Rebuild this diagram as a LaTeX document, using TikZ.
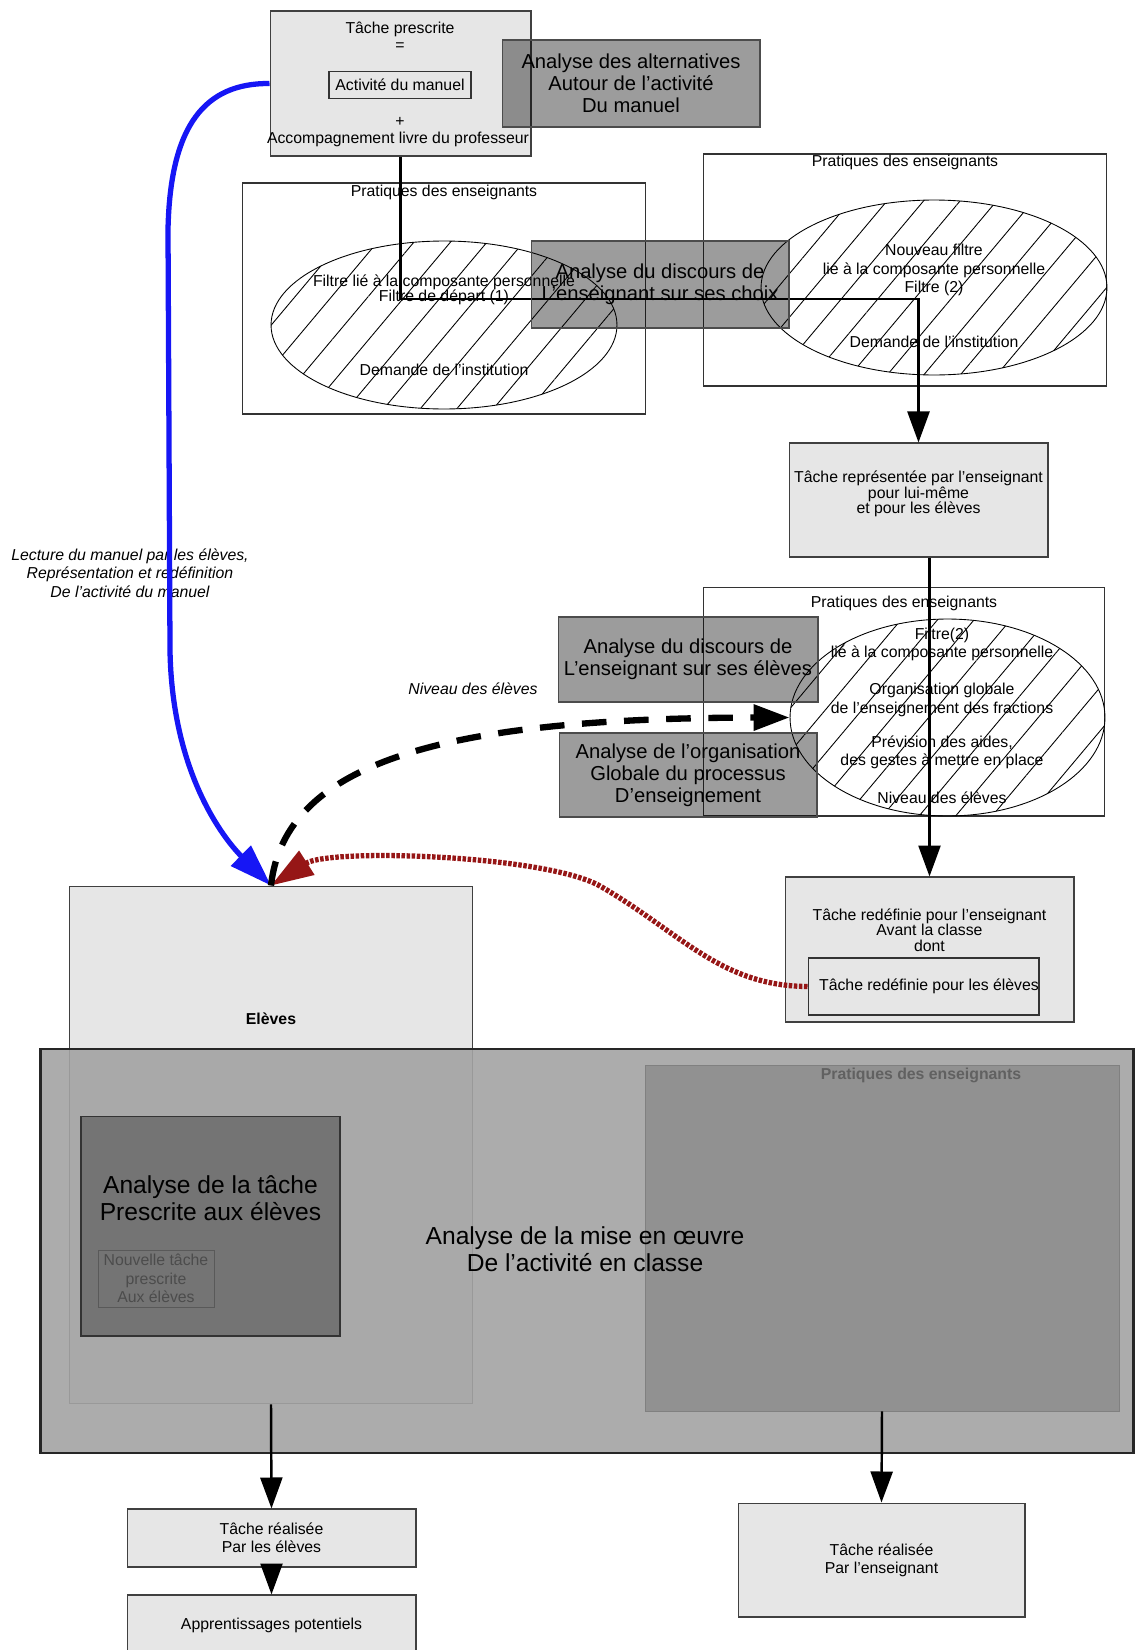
\documentclass[tikz,border=0pt]{standalone}
\usepackage{fontspec}
\setmainfont{Liberation Sans}
\usetikzlibrary{arrows.meta,shapes.geometric,patterns.meta}

\definecolor{boxgray}{RGB}{230,230,230}
\definecolor{bigfill}{RGB}{163,163,163}
\definecolor{darkfill}{RGB}{116,116,116}
\definecolor{pratfill}{RGB}{145,145,145}
\definecolor{arcred}{RGB}{150,22,22}
\definecolor{arcblue}{RGB}{22,22,245}

\tikzset{
    small/.style={font=\fontsize{9}{10.4}\selectfont, align=center, inner sep=0pt},
    tight/.style={font=\fontsize{9}{8.8}\selectfont, align=center, inner sep=0pt},
    smallbold/.style={small, font=\fontsize{9}{10.4}\selectfont\bfseries},
    note/.style={small, font=\fontsize{9}{10.4}\selectfont\itshape},
    large/.style={font=\fontsize{11.5}{12.6}\selectfont, align=center},
    huge/.style={font=\fontsize{14}{15.5}\selectfont, align=center},
    box/.style={draw=black!75, line width=0.6pt, fill=boxgray, inner sep=0pt},
    framebox/.style={draw=black!80, line width=0.6pt, inner sep=0pt},
    analyse/.style={draw=black!70, line width=0.6pt, fill=black, fill opacity=0.39, text opacity=1, large},
    filtre/.style={ellipse, draw, line width=0.5pt, inner sep=0pt, pattern={Lines[angle=50,distance=0.56cm,line width=0.5pt]}},
    conn/.style={line width=1.4pt, -{Triangle[length=0.62cm,width=0.44cm]}},
    bluearc/.style={line width=3pt, arcblue, -{Triangle[length=0.85cm,width=0.55cm]}},
    redarc/.style={line width=3pt, arcred, dash pattern=on 2pt off 0.9pt, -{Triangle[length=0.85cm,width=0.55cm]}},
    blackarc/.style={line width=3.6pt, dash pattern=on 14pt off 10pt, -{Triangle[length=0.72cm,width=0.5cm]}},
}

\begin{document}
\begin{tikzpicture}[x=0.02cm, y=-0.02cm]
    \useasboundingbox (0,0) rectangle (1137,1650);

    \node[box, minimum width=5.22cm, minimum height=2.9cm] (prescrite) at (400.5,83.5) {};
    \node[small] at (400,29) {Tâche prescrite};
    \node[small] at (400,47) {=};
    \node[framebox, small, minimum width=2.84cm, minimum height=0.54cm] (manuel) at (400,85) {Activité du manuel};
    \node[small] at (400,122) {+};
    \node[small] at (398,139) {Accompagnement livre du professeur};

    \node[framebox, minimum width=8.08cm, minimum height=4.62cm] (prat1) at (444,298.5) {};
    \node[small] at (444,192) {Pratiques des enseignants};
    \node[filtre, minimum width=6.92cm, minimum height=3.36cm] (filtre1) at (444,325) {};
    \node[small] at (444,282) {Filtre lié à la composante personnelle};
    \node[small] at (444,297) {Filtre de départ (1)};
    \node[small] at (444,370) {Demande de l'institution};

    \node[framebox, minimum width=8.08cm, minimum height=4.64cm] (prat2) at (905,270) {};
    \node[small] at (905,162) {Pratiques des enseignants};
    \node[filtre, minimum width=6.92cm, minimum height=3.5cm] (filtre2) at (934,287.5) {};
    \node[small] at (934,270) {Nouveau filtre\\lié à la composante personnelle\\Filtre (2)};
    \node[small] at (934,342) {Demande de l'institution};

    \node[box, minimum width=5.18cm, minimum height=2.28cm] (represente) at (918.5,500) {};
    \node[tight] at (918.5,494) {Tâche représentée par l'enseignant\\pour lui-même\\et pour les élèves};

    \coordinate (coude) at (918.5,299);
    \draw[conn] (prescrite.south) |- (coude) -- (represente.north);

    \node[analyse, minimum width=5.16cm, minimum height=1.74cm] (alternatives) at (631,83.5) {Analyse des alternatives\\Autour de l'activité\\Du manuel};
    \node[analyse, minimum width=5.16cm, minimum height=1.74cm] (choix) at (660,284.5) {Analyse du discours de\\L'enseignant sur ses choix};

    \node[framebox, minimum width=8.04cm, minimum height=4.58cm] (prat3) at (904,701.5) {};
    \node[small] at (904,603) {Pratiques des enseignants};
    \node[filtre, minimum width=6.3cm, minimum height=3.94cm] (filtre3) at (947.5,717.5) {};
    \node[small] at (942,644.5) {Filtre(2)\\lié à la composante personnelle};
    \node[small] at (942,700) {Organisation globale\\de l'enseignement des fractions};
    \node[small] at (942,752) {Prévision des aides,\\des gestes à mettre en place};
    \node[small] at (942,798) {Niveau des élèves};

    \node[box, minimum width=5.78cm, minimum height=2.9cm] (redefinie) at (929.5,949.5) {};
    \node[tight] at (929.5,930) {Tâche redéfinie pour l'enseignant\\Avant la classe\\dont};
    \node[framebox, minimum width=4.62cm, minimum height=1.14cm] (redeleves) at (923.5,986.5) {};
    \node[small] at (929,986) {Tâche redéfinie pour les élèves};
    \draw[conn] (represente.south -| redefinie.north) -- (redefinie.north);

    \node[analyse, minimum width=5.16cm, minimum height=1.7cm] (discours) at (688,659.5) {Analyse du discours de\\L'enseignant sur ses élèves};
    \node[analyse, minimum width=5.16cm, minimum height=1.68cm] (organisation) at (688,775) {Analyse de l'organisation\\Globale du processus\\D'enseignement};

    \node[box, minimum width=8.08cm, minimum height=10.36cm] (eleves) at (271,1145) {};
    \node[smallbold] at (271,1019) {Elèves};

    \node[draw=black!85, line width=1.6pt, fill=bigfill, fill opacity=0.9, minimum width=21.88cm, minimum height=8.08cm] (miseoeuvre) at (587,1251) {};
    \node[draw=black!80, line width=0.6pt, fill=darkfill, minimum width=5.18cm, minimum height=4.4cm] (analysetache) at (210.5,1226) {};
    \node[huge] at (210.5,1198) {Analyse de la tâche\\Prescrite aux élèves};
    \node[draw=black!65, line width=0.5pt, minimum width=2.32cm, minimum height=1.14cm, small, text=black!70] (nouvelle) at (156,1278.5) {Nouvelle tâche\\prescrite\\Aux élèves};
    \node[draw=black!50, line width=0.5pt, fill=pratfill, minimum width=9.48cm, minimum height=6.92cm] (prat4) at (882,1238) {};
    \node[smallbold, text=black!62] at (921,1075) {Pratiques des enseignants};
    \node[huge] at (585,1249.5) {Analyse de la mise en œuvre\\De l'activité en classe};

    \node[box, small, minimum width=5.78cm, minimum height=1.16cm] (realeleves) at (271.5,1538) {Tâche réalisée\\Par les élèves};
    \node[box, small, minimum width=5.78cm, minimum height=1.2cm] (apprent) at (271.5,1625) {Apprentissages potentiels};
    \node[box, small, minimum width=5.74cm, minimum height=2.28cm] (realens) at (881.5,1560) {Tâche réalisée\\Par l'enseignant};

    \draw[conn] (eleves.south) -- (realeleves.north);
    \draw[conn] (prat4.south) -- (realens.north);
    \draw[conn] (realeleves.south) -- (apprent.north);

    \node[note] at (130,573) {Lecture du manuel par les élèves,\\Représentation et redéfinition\\De l'activité du manuel};
    \node[note] at (473,689) {Niveau des élèves};

    \draw[bluearc] (prescrite.west) .. controls (205,83) and (170,125) .. (168,230) -- (170,650) .. controls (172,780) and (230,845) .. (eleves.north);
    \draw[redarc] (redeleves.west) .. controls (720,986) and (680,932) .. (600,886) .. controls (545,855) and (330,848) .. (eleves.north);
    \draw[blackarc] (eleves.north) .. controls (285,760) and (450,718) .. (filtre3.west);
\end{tikzpicture}
\end{document}
